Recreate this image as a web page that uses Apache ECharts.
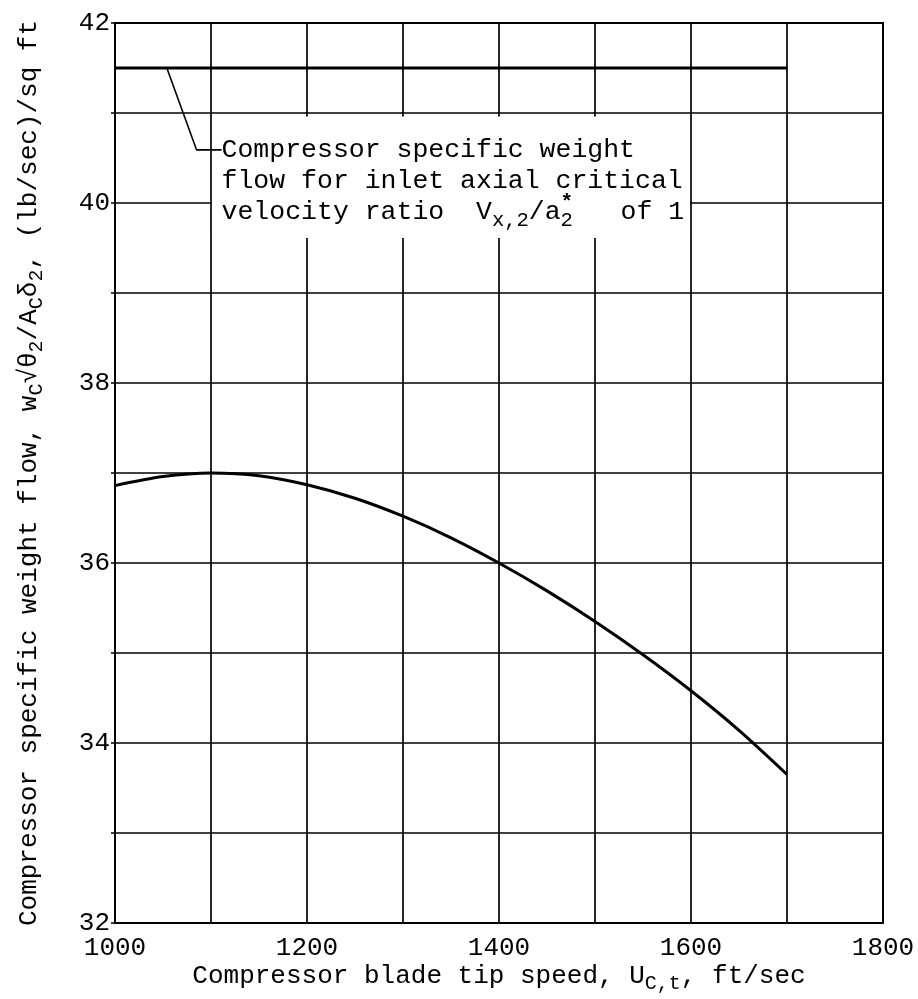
<!DOCTYPE html>
<html><head><meta charset="utf-8">
<script src="https://cdn.jsdelivr.net/npm/echarts@6/dist/echarts.min.js"></script>
<style>html,body{margin:0;padding:0;background:#fff}#c{width:918px;height:999px}</style>
</head><body><div id="c"></div>
<script>
// ---- data ----
const tipSpeed = [1000,1050,1100,1150,1200,1250,1300,1350,1400,1450,1500,1550,1600,1650,1700];
const specificFlow = [36.86,36.96,37.0,36.97,36.87,36.72,36.52,36.28,36.0,35.69,35.35,34.98,34.58,34.14,33.65];
const criticalSpeed = [1000,1700];
const criticalFlow = [41.5,41.5];
const xTickLabels = [1000,1200,1400,1600,1800];
const yTickLabels = [32,34,36,38,40,42];
const noteLine1 = 'Compressor specific weight';
const noteLine2 = 'flow for inlet axial critical';
const noteLine3 = '{n|velocity ratio  V}{s|x,2}{n|/a}{s|2}{n|   of 1}';
// annotation anchors in data space
const leaderPts = [[1054,41.5],[1085,40.59],[1111,40.59]];
const noteBox = [[1101,40.96],[1599,39.61]];
const noteLineY = [40.59,40.245,39.9];

const FONT = "'Liberation Mono','Courier New',monospace";
const chart = echarts.init(document.getElementById('c'), null, {renderer:'canvas'});
const axisLineStyle = {color:'#000', width:2};
const richAxis = {n:{fontFamily:FONT,fontSize:26,color:'#000',lineHeight:30},
                  s:{fontFamily:FONT,fontSize:20,color:'#000',padding:[16,0,0,0],lineHeight:30}};
chart.setOption({
  animation:false,
  backgroundColor:'#fff',
  grid:{left:115, right:35, top:23, bottom:76, containLabel:false, outerBoundsMode:'none',
        show:true, borderColor:'#000', borderWidth:2},
  xAxis:{
    type:'value', min:1000, max:1800, interval:100,
    axisLine:{show:true, lineStyle:axisLineStyle},
    axisTick:{show:false},
    splitLine:{show:true, lineStyle:{color:'#000', width:1.7}},
    axisLabel:{margin:12, color:'#000', fontFamily:FONT, fontSize:26,
      formatter:v=> xTickLabels.includes(v) ? String(v) : ''},
    name:'{n|Compressor blade tip speed, U}{s|C,t}{n|, ft/sec}',
    nameLocation:'middle', nameGap:38, nameMoveOverlap:false,
    nameTextStyle:{fontFamily:FONT, color:'#000', rich:richAxis}
  },
  yAxis:{
    type:'value', min:32, max:42, interval:1,
    axisLine:{show:true, lineStyle:axisLineStyle},
    axisTick:{show:true, length:4, lineStyle:{color:'#000', width:1.5}},
    splitLine:{show:true, lineStyle:{color:'#000', width:1.7}},
    axisLabel:{margin:5, color:'#000', fontFamily:FONT, fontSize:26,
      formatter:v=> yTickLabels.includes(v) ? String(v) : ''},
    name:'{n|Compressor specific weight flow, w}{s|C}{n|√θ}{s|2}{n|/A}{s|C}{n|δ}{s|2}{n|, (lb/sec)/sq ft}',
    nameLocation:'middle', nameGap:71, nameRotate:90, nameMoveOverlap:false,
    nameTextStyle:{fontFamily:FONT, color:'#000', rich:richAxis}
  },
  series:[
    {type:'line', data:tipSpeed.map((x,i)=>[x,specificFlow[i]]), smooth:0.3, symbol:'none',
     lineStyle:{color:'#000', width:3}, z:3},
    {type:'line', data:criticalSpeed.map((x,i)=>[x,criticalFlow[i]]), symbol:'none',
     lineStyle:{color:'#000', width:3}, z:3}
  ]
});

const px = p => chart.convertToPixel({gridIndex:0}, p);
const b0 = px(noteBox[0]), b1 = px(noteBox[1]);
const lp = leaderPts.map(px);
const tx = lp[2][0];
const NS = 26.5, SS = 20.5;
const textStyleBase = {font:`${NS}px ${FONT}`, fill:'#000', textVerticalAlign:'middle', textAlign:'left'};
const subW = SS*0.6, mainW = NS*0.6;
const starX = tx + 17*mainW + 3*subW + 2*mainW + subW/2;
chart.setOption({
  graphic:[
    {type:'rect', z:50, shape:{x:b0[0], y:b0[1], width:b1[0]-b0[0], height:b1[1]-b0[1]},
     style:{fill:'#fff'}},
    {type:'polyline', z:51, shape:{points:lp}, style:{stroke:'#000', lineWidth:1.6, fill:null}},
    {type:'text', z:52, x:tx, y:px([1100,noteLineY[0]])[1], style:Object.assign({text:noteLine1}, textStyleBase)},
    {type:'text', z:52, x:tx, y:px([1100,noteLineY[1]])[1], style:Object.assign({text:noteLine2}, textStyleBase)},
    {type:'text', z:52, x:tx, y:px([1100,noteLineY[2]])[1], style:Object.assign({text:noteLine3,
      rich:{n:{fontFamily:FONT,fontSize:NS,fill:'#000',lineHeight:30},
            s:{fontFamily:FONT,fontSize:SS,fill:'#000',padding:[18,0,0,0],lineHeight:30}}}, textStyleBase)},
    {type:'text', z:52, x:starX, y:px([1100,noteLineY[2]])[1]-9,
     style:{text:'*', font:`bold 21px ${FONT}`, fill:'#000', textAlign:'center', textVerticalAlign:'middle'}}
  ]
});
</script></body></html>
